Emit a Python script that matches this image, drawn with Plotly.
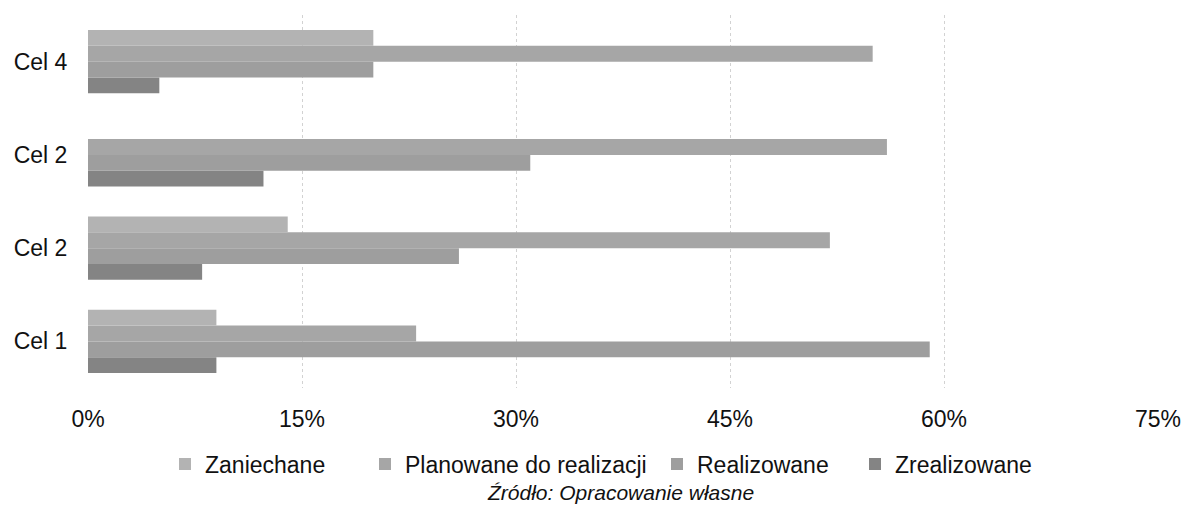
import plotly.graph_objects as go

categories = ["Cel 1", "Cel 2", "Cel 2", "Cel 4"]
positions = [0, 1, 2, 3]

zaniechane = [9, 14, 0, 20]
planowane = [23, 52, 56, 55]
realizowane = [59, 26, 31, 20]
zrealizowane = [9, 8, 12.3, 5]

tick_vals = [0, 15, 30, 45, 60, 75]
tick_text = ["0%", "15%", "30%", "45%", "60%", "75%"]

# name, values, colour, legend id, legend text start (px)
series = [
    ("Zrealizowane", zrealizowane, "#848484", "legend4", 895),
    ("Realizowane", realizowane, "#9e9e9e", "legend3", 697),
    ("Planowane do realizacji", planowane, "#a6a6a6", "legend2", 405),
    ("Zaniechane", zaniechane, "#b3b3b3", "legend", 205),
]

fig = go.Figure()
for name, vals, color, leg, _ in series:
    fig.add_trace(go.Bar(
        y=positions, x=vals, name=name, orientation="h",
        marker=dict(color=color, line=dict(width=0)),
        legend=leg,
    ))

W, H = 1181, 511
legends = {}
for name, vals, color, leg, tx in series:
    legends[leg] = dict(
        orientation="h", xref="container", yref="container",
        x=(tx - 40) / W, xanchor="left",
        y=1 - 464 / H, yanchor="middle",
        font=dict(size=23), itemwidth=30, bgcolor="rgba(0,0,0,0)",
    )

fig.update_layout(
    width=W, height=H,
    barmode="group", bargap=0.32, bargroupgap=0,
    plot_bgcolor="white", paper_bgcolor="white",
    font=dict(family="Liberation Sans, Arial, sans-serif", size=23, color="#111111"),
    margin=dict(l=88, r=23, t=15, b=123),
    showlegend=True,
    **legends,
)
fig.update_xaxes(
    range=[0, 75.0001], tickvals=tick_vals, ticktext=tick_text,
    showgrid=True, gridcolor="#d2d2d2", griddash="dot", gridwidth=1,
    zeroline=False, showline=False, automargin=False,
    ticklabeloverflow="allow",
    ticks="outside", ticklen=10, tickcolor="rgba(0,0,0,0)",
)
fig.update_yaxes(
    range=[-0.5, 3.5], tickvals=positions, ticktext=categories,
    showgrid=False, zeroline=False, showline=False, automargin=False,
    ticks="outside", ticklen=15, tickcolor="rgba(0,0,0,0)",
)
fig.add_annotation(
    text="<i>Źródło: Opracowanie własne</i>", xref="paper", yref="paper",
    x=0.498, y=(388 - 492) / 373, xanchor="center", yanchor="middle", showarrow=False,
    font=dict(size=21),
)
fig.write_html(
    "out.html",
    config={"displayModeBar": False},
    post_script="document.body.style.margin='0';document.body.style.overflow='hidden';",
)
